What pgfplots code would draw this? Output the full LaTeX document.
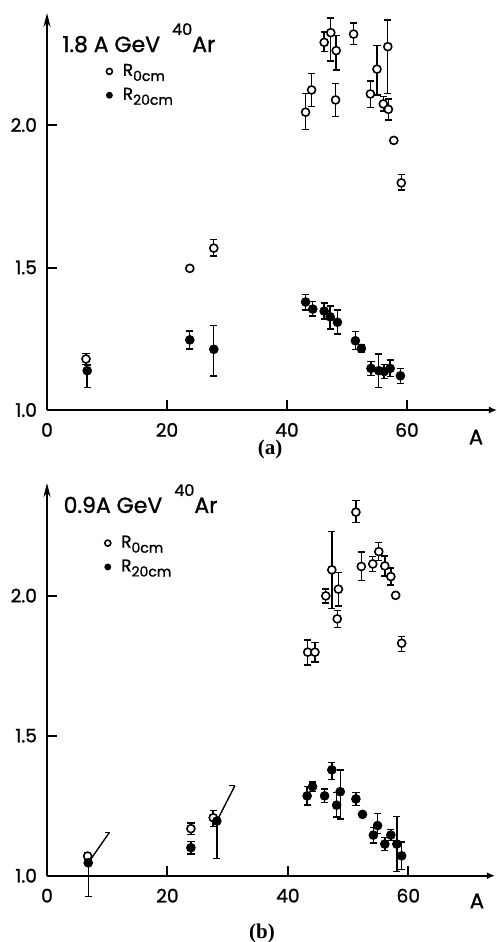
\documentclass[border=0pt]{standalone}
\usepackage{fontspec}
\setmainfont{Poppins}[FakeBold=1.2]
\newfontfamily\serifb{Liberation Serif}
\usepackage{pgfplots}
\pgfplotsset{compat=1.18}
\usetikzlibrary{arrows.meta}

\newcommand{\Rsub}[1]{R\raisebox{-0.55ex}{\fontsize{7}{7}\selectfont #1}}

\pgfplotsset{
  panel/.style={
    scale only axis, axis lines=left, tick align=inside,
    xmin=0, ymin=1,
    xtick={0,20,40,60}, ytick={1,1.5,2}, yticklabels={1.0,1.5,2.0},
    major tick length=5pt,
    clip=false,
    axis line style={line width=1pt},
    x axis line style={-{Latex[length=4pt,width=3.5pt]}},
    y axis line style={-{Stealth[length=7pt,width=3.5pt]}},
    tick style={line width=1pt, black},
    ticklabel style={font=\fontsize{9.3}{10}\selectfont},
    xticklabel style={yshift=-3pt},
    yticklabel style={xshift=-1.5pt},
    /pgf/number format/assume math mode=true,
    legend style={draw=none, fill=none, inner sep=0pt,
      font=\fontsize{8.5}{9}\selectfont, anchor=north west,
      nodes={inner sep=1.5pt}, row sep=1.5pt},
    legend cell align=left,
    legend image code/.code={\draw[##1, mark size=1.5pt] plot coordinates {(0pt,0pt)};
      \path (-2pt,0pt) (5pt,0pt);},
  },
  ebar/.style={error bars/.cd, y dir=both, y explicit,
    error bar style={line width=0.7pt},
    error mark options={rotate=90, mark size=1.8pt, line width=0.7pt}},
  open/.style={only marks, mark=*, mark size=2pt,
    mark options={fill=white, draw=black, line width=0.8pt}, ebar},
  full/.style={only marks, mark=*, mark size=2.2pt, black,
    mark options={fill=black, draw=black}, ebar},
}

\begin{document}
\begin{tikzpicture}
\path[use as bounding box] (-23.5pt,-266pt) rectangle (225pt,205pt);

% panel (a): 1.8 A GeV
\begin{axis}[panel, at={(0,0)}, anchor=south west,
  width=225pt, height=198.5pt, xmax=75, ymax=2.393,
  legend style={at={(axis cs:9.6,2.226)}},
  legend entries={\Rsub{0cm},\Rsub{20cm}}]
\addplot[open] coordinates {
 (6.5,1.179) +- (0,0.02)
 (23.8,1.497) +- (0,0.008)
 (27.8,1.568) += (0,0.03) -= (0,0.028)
 (43.1,2.045) += (0,0.065) -= (0,0.06)
 (44.1,2.123) += (0,0.057) -= (0,0.059)
 (46.2,2.29) += (0,0.037) -= (0,0.033)
 (47.3,2.324) += (0,0.052) -= (0,0.099)
 (48.2,2.261) += (0,0.052) -= (0,0.068)
 (48.1,2.088) += (0,0.057) -= (0,0.059)
 (51.1,2.319) += (0,0.039) -= (0,0.036)
 (53.9,2.109) += (0,0.046) -= (0,0.048)
 (55.0,2.196) += (0,0.082) -= (0,0.091)
 (56.05,2.074) +- (0,0.025)
 (56.9,2.055) += (0,0.036) -= (0,0.037)
 (56.8,2.275) += (0,0.093) -= (0,0.164)
 (57.8,1.946) +- (0,0.01)
 (59.05,1.797) += (0,0.03) -= (0,0.025)
};
\addplot[full] coordinates {
 (6.7,1.138) += (0,0.02) -= (0,0.058)
 (23.8,1.246) += (0,0.031) -= (0,0.032)
 (27.8,1.213) += (0,0.083) -= (0,0.094)
 (43.1,1.379) += (0,0.027) -= (0,0.028)
 (44.3,1.354) += (0,0.026) -= (0,0.024)
 (46.2,1.347) +- (0,0.028)
 (47.2,1.327) += (0,0.038) -= (0,0.043)
 (48.4,1.308) += (0,0.043) -= (0,0.041)
 (51.4,1.243) += (0,0.032) -= (0,0.03)
 (52.4,1.216) +- (0,0.012)
 (54.0,1.146) +- (0,0.025)
 (55.3,1.138) +- (0,0.058)
 (56.2,1.135) +- (0,0.025)
 (57.2,1.146) +- (0,0.029)
 (58.9,1.12) +- (0,0.026)
};
\node[anchor=base west, font=\fontsize{11}{12}\selectfont, inner sep=0pt]
  at (axis cs:2.5,2.256) {1.8 A GeV\hspace{6pt}\raisebox{8.5pt}{\fontsize{8}{8}\selectfont 40}Ar};
\node[font=\fontsize{10.5}{10}\selectfont] at (axis cs:71.5,0.905) {A};
\node[font=\serifb\bfseries\fontsize{10.5}{12}\selectfont] at (axis cs:37.2,0.86) {(a)};
\end{axis}

% panel (b): 0.9 A GeV
\begin{axis}[panel, at={(0,-232.85pt)}, anchor=south west,
  width=224pt, height=196.35pt, xmax=74.4, ymax=2.402,
  legend style={at={(axis cs:9.3,2.226)}},
  legend entries={\Rsub{0cm},\Rsub{20cm}}]
\addplot[open] coordinates {
 (6.75,1.07) +- (0,0.012)
 (23.9,1.168) +- (0,0.02)
 (27.6,1.207) += (0,0.025) -= (0,0.032)
 (43.3,1.798) += (0,0.044) -= (0,0.046)
 (44.5,1.798) +- (0,0.035)
 (46.3,1.999) +- (0,0.025)
 (47.3,2.092) +- (0,0.137)
 (48.4,2.023) += (0,0.059) -= (0,0.06)
 (48.2,1.917) +- (0,0.03)
 (51.3,2.298) += (0,0.041) -= (0,0.037)
 (52.2,2.104) += (0,0.051) -= (0,0.05)
 (54.1,2.113) +- (0,0.027)
 (55.1,2.157) += (0,0.033) -= (0,0.032)
 (56.1,2.106) +- (0,0.036)
 (57.1,2.068) +- (0,0.03)
 (57.9,2.001) +- (0,0.01)
 (58.9,1.83) += (0,0.024) -= (0,0.03)
};
\addplot[full] coordinates {
 (6.85,1.046) += (0,0.01) -= (0,0.121)
 (23.9,1.10) +- (0,0.022)
 (28.2,1.195) += (0,0.01) -= (0,0.133)
 (43.2,1.285) +- (0,0.033)
 (44.1,1.318) +- (0,0.017)
 (46.1,1.285) +- (0,0.024)
 (47.3,1.378) += (0,0.027) -= (0,0.034)
 (48.1,1.252) += (0,0.044) -= (0,0.042)
 (48.7,1.30) += (0,0.078) -= (0,0.098)
 (51.3,1.274) +- (0,0.024)
 (52.4,1.219) +- (0,0.008)
 (54.2,1.145) +- (0,0.028)
 (54.9,1.179) += (0,0.044) -= (0,0.028)
 (56.1,1.113) +- (0,0.024)
 (57.1,1.145) +- (0,0.02)
 (58.1,1.113) += (0,0.098) -= (0,0.099)
 (58.9,1.071) += (0,0.05) -= (0,0.048)
};
% slanted error bars
\addplot[line width=0.7pt, forget plot] coordinates {(6.85,1.046) (10.35,1.154)};
\addplot[line width=0.7pt, forget plot] coordinates {(9.6,1.154) (10.5,1.154)};
\addplot[line width=0.7pt, forget plot] coordinates {(28.2,1.195) (31.2,1.321)};
\addplot[line width=0.7pt, forget plot] coordinates {(30.3,1.321) (31.3,1.321)};
\node[anchor=base west, font=\fontsize{11}{12}\selectfont, inner sep=0pt]
  at (axis cs:2.7,2.295) {0.9A GeV\hspace{6pt}\raisebox{8.5pt}{\fontsize{8}{8}\selectfont 40}Ar};
\node[font=\fontsize{10.5}{10}\selectfont] at (axis cs:71.4,0.91) {A};
\node[font=\serifb\bfseries\fontsize{10.5}{12}\selectfont] at (axis cs:35.7,0.795) {(b)};
\end{axis}
\end{tikzpicture}
\end{document}
